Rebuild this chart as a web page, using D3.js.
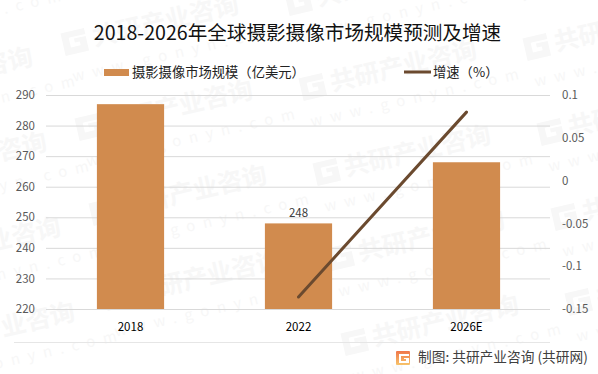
<!DOCTYPE html>
<html lang="en">
<head>
    <meta charset="UTF-8">
    <title>全球摄影摄像市场规模预测及增速</title>
    <script src="https://d3js.org/d3.v7.min.js"></script>
    <style>
        html, body { margin: 0; padding: 0; background: #fff; }
        text { font-family: "Noto Sans CJK SC", "Liberation Sans", sans-serif; }
    </style>
</head>
<body>
    <div id="chart"></div>

    <script>
        // values
        const categories = ["2018", "2022", "2026E"];
        const marketSize = [287, 248, 268];
        const growth = [null, -0.136, 0.08];
        const leftTicks = [220, 230, 240, 250, 260, 270, 280, 290];
        const rightTicks = [0.1, 0.05, 0, -0.05, -0.1, -0.15];
        const barLabels = [null, "248", null];

        const titleText = "2018-2026年全球摄影摄像市场规模预测及增速";
        const barLegend = "摄影摄像市场规模（亿美元）";
        const lineLegend = "增速（%）";
        const sourceText = "制图: 共研产业咨询 (共研网)";
        const markName = "共研产业咨询";
        const markSite = "www.gonyn.com";
        // upper left corner of each column of the watermark
        const markColumns = [[-155, 20], [51, -32], [289, 13], [513, -27]];

        const width = 598, height = 374;
        const margin = {top: 95, right: 48, bottom: 65, left: 46};

        const svg = d3.select("#chart").append("svg")
            .attr("width", width)
            .attr("height", height)
            .style("display", "block");

        // Watermark goes under everything
        const wm = svg.append("g");
        markColumns.forEach(col => {
            d3.range(5).forEach(i => {
                const g = wm.append("g")
                    .attr("transform", `translate(${col[0] + i * 14},${col[1] + i * 85}) rotate(-13)`);
                g.append("path")
                    .attr("d", "M0,-20H24V-14H7V-4H17V-8H12V-12H24V3H0Z")
                    .attr("fill", "#f7f7f7");
                g.append("text")
                    .attr("x", 30)
                    .attr("font-size", 25)
                    .attr("font-weight", 700)
                    .attr("fill", "#f7f7f7")
                    .text(markName);
                g.append("text")
                    .attr("x", 2)
                    .attr("y", 30)
                    .attr("font-size", 15)
                    .attr("letter-spacing", 8)
                    .attr("fill", "#f7f7f7")
                    .text(markSite);
            });
        });

        const x = d3.scaleBand()
            .domain(categories)
            .range([margin.left + 0.5, width - margin.right + 0.5])
            .paddingInner(0.6)
            .paddingOuter(0.3);
        const y = d3.scaleLinear().domain([220, 290]).range([height - margin.bottom, margin.top]);
        const y2 = d3.scaleLinear().domain([-0.15, 0.1]).range([height - margin.bottom, margin.top]);

        // Gridlines
        svg.append("g")
            .attr("transform", `translate(${margin.left},0)`)
            .call(d3.axisLeft(y).tickValues(leftTicks)
                .tickSize(-(width - margin.left - margin.right))
                .tickFormat(""))
            .call(g => g.select(".domain").remove())
            .selectAll("line")
            .attr("stroke", "#d9d9d9")
            .attr("stroke-width", 1);

        // Left axis
        svg.append("g")
            .attr("transform", `translate(${margin.left},0)`)
            .call(d3.axisLeft(y).tickValues(leftTicks).tickSize(0).tickPadding(11))
            .call(g => g.select(".domain").remove())
            .selectAll("text")
            .attr("font-size", 11.5)
            .attr("fill", "#595959");

        // Right axis
        svg.append("g")
            .attr("transform", `translate(${width - margin.right},0)`)
            .call(d3.axisRight(y2).tickValues(rightTicks).tickSize(0).tickPadding(12).tickFormat(d => d))
            .call(g => g.select(".domain").remove())
            .selectAll("text")
            .attr("font-size", 11.5)
            .attr("fill", "#595959");

        // Bars
        svg.append("g")
            .selectAll("rect")
            .data(categories)
            .enter()
            .append("rect")
              .attr("x", d => x(d))
              .attr("y", (d, i) => y(marketSize[i]))
              .attr("width", x.bandwidth())
              .attr("height", (d, i) => y(220) - y(marketSize[i]))
              .attr("fill", "#d18b4e");

        // Bar labels
        svg.append("g")
            .selectAll("text")
            .data(categories)
            .enter()
            .append("text")
              .attr("x", d => x(d) + x.bandwidth() / 2)
              .attr("y", (d, i) => y(marketSize[i]) - 6)
              .attr("text-anchor", "middle")
              .attr("font-size", 11.5)
              .attr("fill", "#404040")
              .text((d, i) => barLabels[i]);

        // Growth line
        const line = d3.line()
            .defined((d, i) => growth[i] !== null)
            .x((d, i) => x(categories[i]) + x.bandwidth() / 2)
            .y((d, i) => y2(growth[i]));
        svg.append("path")
            .attr("d", line(categories))
            .attr("fill", "none")
            .attr("stroke", "#6b4a2f")
            .attr("stroke-width", 3)
            .attr("stroke-linecap", "round");

        // Category labels
        svg.append("g")
            .attr("transform", `translate(0,${height - margin.bottom})`)
            .call(d3.axisBottom(x).tickSize(0).tickPadding(14))
            .call(g => g.select(".domain").remove())
            .selectAll("text")
            .attr("font-size", 11.5)
            .attr("fill", "#000");

        // Title
        svg.append("text")
            .attr("x", 297.5)
            .attr("y", 40)
            .attr("text-anchor", "middle")
            .attr("font-size", 19.6)
            .attr("fill", "#111")
            .text(titleText);

        // Legend
        svg.append("rect")
            .attr("x", 104).attr("y", 69).attr("width", 25).attr("height", 7)
            .attr("fill", "#d18b4e");
        svg.append("text")
            .attr("x", 132).attr("y", 77)
            .attr("font-size", 13.3)
            .attr("fill", "#222")
            .text(barLegend);
        svg.append("line")
            .attr("x1", 404).attr("x2", 431).attr("y1", 72).attr("y2", 72)
            .attr("stroke", "#6b4a2f").attr("stroke-width", 3);
        svg.append("text")
            .attr("x", 433).attr("y", 77)
            .attr("font-size", 13.3)
            .attr("fill", "#222")
            .text(lineLegend);

        // Footer
        svg.append("line")
            .attr("x1", 14).attr("x2", 550).attr("y1", 342.5).attr("y2", 342.5)
            .attr("stroke", "#e6e6e6");

        const grad = svg.append("defs").append("linearGradient")
            .attr("id", "logoGrad").attr("x1", 0).attr("x2", 0).attr("y1", 0).attr("y2", 1);
        grad.append("stop").attr("offset", 0).attr("stop-color", "#f0764a");
        grad.append("stop").attr("offset", 1).attr("stop-color", "#f7c36a");
        svg.append("rect")
            .attr("x", 396).attr("y", 351).attr("width", 14).attr("height", 14).attr("rx", 1)
            .attr("fill", "url(#logoGrad)");
        svg.append("path")
            .attr("d", "M399,354H409V356H401V361H406V359H404V358H409V363H399Z")
            .attr("fill", "#fff");

        svg.append("text")
            .attr("x", 418).attr("y", 362)
            .attr("font-size", 13.7)
            .attr("fill", "#404040")
            .text(sourceText);
    </script>
</body>
</html>
